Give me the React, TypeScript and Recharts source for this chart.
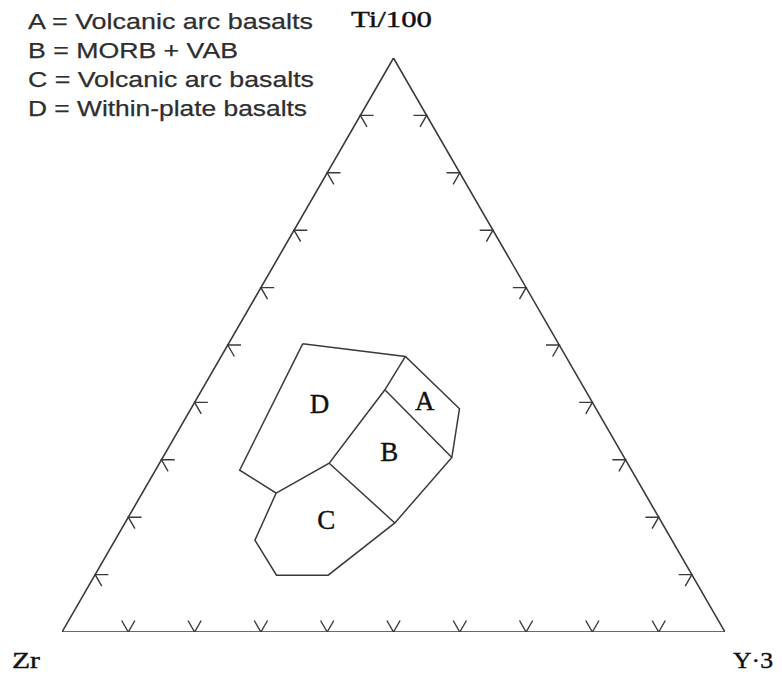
import { ComposedChart, Line, Scatter, XAxis, YAxis, Customized } from 'recharts';

// height of the unit equilateral triangle
const H = Math.sqrt(3) / 2;

// all compositions are [Ti, Zr, Y] in percent
const APEX_TI = [100, 0, 0];
const APEX_ZR = [0, 100, 0];
const APEX_Y = [0, 0, 100];

const TICK_STEPS = [10, 20, 30, 40, 50, 60, 70, 80, 90];

// field corners (Ti/100, Zr, Y*3)
const FIELD_VERTICES: Record<string, number[]> = {
  dTop: [50.2, 38.6, 11.2],
  junctionTop: [48.0, 24.2, 27.8],
  aRight: [38.9, 20.6, 40.5],
  abRight: [30.4, 26.0, 43.6],
  abLeft: [42.2, 30.2, 27.6],
  bcRight: [19.0, 40.3, 40.7],
  bcdJunction: [29.4, 45.0, 25.6],
  dLeft: [28.2, 59.1, 12.7],
  cdJunction: [24.2, 55.6, 20.2],
  cLeft: [16.0, 62.9, 21.1],
  cBottomLeft: [9.9, 62.7, 27.4],
  cBottomRight: [9.9, 54.9, 35.2],
};

const FIELD_OUTLINE = [
  'dTop', 'junctionTop', 'aRight', 'abRight', 'bcRight', 'cBottomRight',
  'cBottomLeft', 'cLeft', 'cdJunction', 'dLeft', 'dTop',
];

const FIELD_DIVIDERS = [
  ['junctionTop', 'abLeft', 'bcdJunction', 'cdJunction'],
  ['abLeft', 'abRight'],
  ['bcdJunction', 'bcRight'],
];

const REGION_NAMES = ['A', 'B', 'C', 'D'];
const REGION_TI = [40.2, 31.3, 19.5, 39.7];
const REGION_ZR = [25.2, 35.0, 50.4, 41.3];
const REGION_Y = [34.6, 33.7, 30.1, 19.0];

const LEGEND_LINES = [
  'A = Volcanic arc basalts',
  'B = MORB + VAB',
  'C = Volcanic arc basalts',
  'D = Within-plate basalts',
];
const LEGEND_WIDTHS = [285, 210, 286, 279];

const TICK_LEN = 0.02;
const INK = '#3a3a3a';

function toXY([ti, , y]: number[]) {
  return { x: (y + ti / 2) / 100, y: (ti / 100) * H };
}

const frame = [APEX_ZR, APEX_Y, APEX_TI, APEX_ZR].map(toXY);
const outline = FIELD_OUTLINE.map((k) => toXY(FIELD_VERTICES[k]));
const dividers = FIELD_DIVIDERS.map((path) => path.map((k) => toXY(FIELD_VERTICES[k])));

// each tick is a small chevron made of the two grid directions pointing inward
function chevrons(points: { x: number; y: number }[], a: number[], b: number[]) {
  const out: { x: number; y: number | null }[] = [];
  points.forEach((p) => {
    out.push({ x: p.x + a[0] * TICK_LEN, y: p.y + a[1] * TICK_LEN });
    out.push({ x: p.x, y: p.y });
    out.push({ x: p.x + b[0] * TICK_LEN, y: p.y + b[1] * TICK_LEN });
    out.push({ x: p.x + b[0] * TICK_LEN, y: null });
  });
  return out;
}

const bottomTicks = chevrons(
  TICK_STEPS.map((s) => toXY([0, 100 - s, s])),
  [-0.5, H],
  [0.5, H],
);
const leftTicks = chevrons(
  TICK_STEPS.map((s) => toXY([s, 100 - s, 0])),
  [1, 0],
  [0.5, -H],
);
const rightTicks = chevrons(
  TICK_STEPS.map((s) => toXY([s, 0, 100 - s])),
  [-1, 0],
  [-0.5, -H],
);

const regionLabels = REGION_NAMES.map((name, i) => ({
  name,
  ...toXY([REGION_TI[i], REGION_ZR[i], REGION_Y[i]]),
}));

const serif = '"Liberation Serif", "Times New Roman", serif';
const sans = '"Liberation Sans", Arial, sans-serif';

function TextLayer() {
  const corner = { fontFamily: serif, fontSize: 23, fill: '#111', stroke: '#111', strokeWidth: 0.4, lengthAdjust: 'spacingAndGlyphs' as const };
  return (
    <g>
      {LEGEND_LINES.map((line, i) => (
        <text
          key={line}
          x={20}
          y={21 + i * 29}
          fontFamily={sans}
          fontSize={22}
          fill="#2e2e2e"
          stroke="#2e2e2e"
          strokeWidth={0.25}
          textLength={LEGEND_WIDTHS[i]}
          lengthAdjust="spacingAndGlyphs"
        >
          {line}
        </text>
      ))}
      <text x={343} y={19} textLength={81} {...corner}>
        Ti/100
      </text>
      <text x={4} y={660} textLength={28} {...corner}>
        Zr
      </text>
      <text x={725} y={660} textLength={40} {...corner}>
        Y·3
      </text>
    </g>
  );
}

function RegionLabel(props: any) {
  const { cx, cy, payload } = props;
  return (
    <text
      x={cx}
      y={cy}
      textAnchor="middle"
      dominantBaseline="central"
      fontFamily={serif}
      fontSize={27}
      fill="#111"
      stroke="#111"
      strokeWidth={0.4}
    >
      {payload.name}
    </text>
  );
}

export default function App() {
  return (
    <ComposedChart
      width={774}
      height={665}
      margin={{ top: 50, right: 57, bottom: 41, left: 54 }}
      style={{ overflow: 'visible' }}
    >
      <XAxis type="number" dataKey="x" domain={[0, 1]} hide allowDataOverflow />
      <YAxis type="number" dataKey="y" domain={[0, H]} hide allowDataOverflow />
      <Line data={frame} dataKey="y" stroke={INK} strokeWidth={1.6} dot={false} isAnimationActive={false} />
      <Line data={bottomTicks} dataKey="y" stroke={INK} strokeWidth={1.4} dot={false} isAnimationActive={false} />
      <Line data={leftTicks} dataKey="y" stroke={INK} strokeWidth={1.4} dot={false} isAnimationActive={false} />
      <Line data={rightTicks} dataKey="y" stroke={INK} strokeWidth={1.4} dot={false} isAnimationActive={false} />
      <Line data={outline} dataKey="y" stroke={INK} strokeWidth={1.5} dot={false} isAnimationActive={false} />
      {dividers.map((d, i) => (
        <Line key={i} data={d} dataKey="y" stroke={INK} strokeWidth={1.5} dot={false} isAnimationActive={false} />
      ))}
      <Scatter data={regionLabels} dataKey="y" shape={RegionLabel} isAnimationActive={false} />
      <Customized component={TextLayer} />
    </ComposedChart>
  );
}
